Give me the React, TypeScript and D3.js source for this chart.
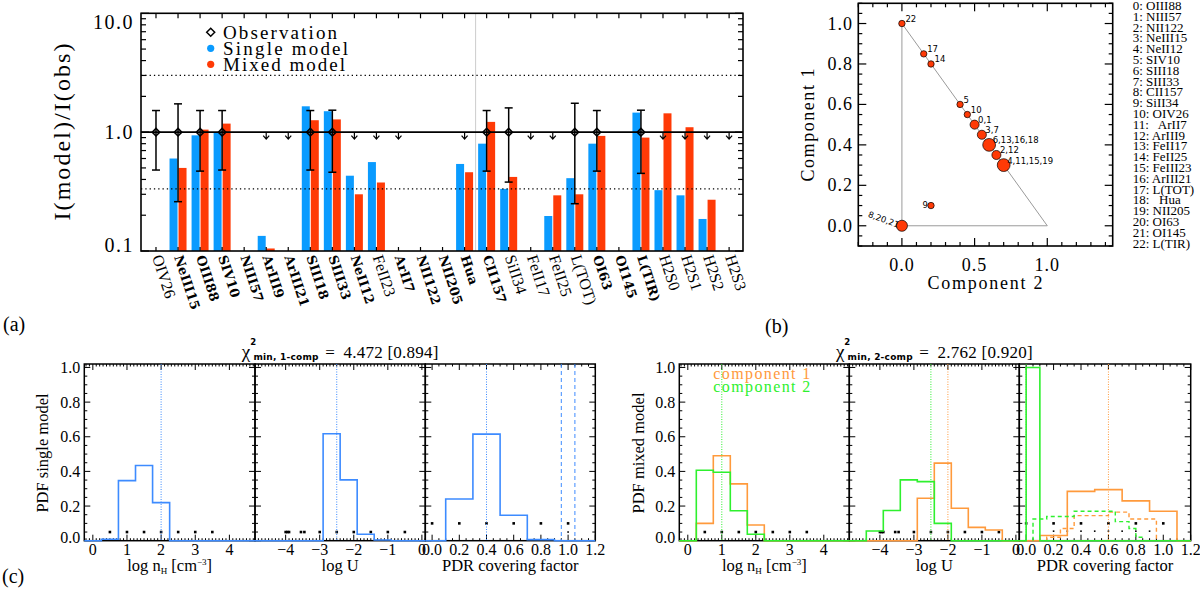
import React from "react";
import * as d3 from "d3";

const SERIF = "'Liberation Serif', 'Times New Roman', serif";
const BOLDF = "'DejaVu Serif', serif";
const SANS = "'DejaVu Sans', sans-serif";

const BLUE = "#0a9bff";
const RED = "#ff3a06";
const HBLUE = "#3d8bff";
const GREEN = "#2ef02e";
const ORANGE = "#ff9a3c";

// ---------------- (a) line ratios ----------------
const lineNames = ["OIV26","NeIII15","OIII88","SIV10","NIII57","ArIII9","ArIII21","SIII18","SIII33","NeII12","FeII23","ArII7","NII122","NII205","Hua","CII157","SiII34","FeII17","FeII25","L(TOT)","OI63","OI145","L(TIR)","H2S0","H2S1","H2S2","H2S3"];
const thinLabels = ["OIV26","FeII23","SiII34","FeII17","FeII25","L(TOT)","H2S0","H2S1","H2S2","H2S3"];
const singleModel = [null,0.60,0.94,1.00,null,0.134,null,1.65,1.50,0.43,0.56,null,null,null,0.54,0.80,0.333,null,0.197,0.41,0.80,null,1.46,0.325,0.294,0.186,null];
const mixedModel = [null,0.50,1.05,1.18,null,0.105,null,1.26,1.28,0.30,0.377,null,null,null,0.46,1.22,0.42,null,0.294,0.30,0.93,null,0.90,1.44,1.10,0.27,null];
const obsHigh = [1.52,1.73,1.52,1.52,null,null,null,1.52,1.53,null,null,null,null,null,null,1.52,1.60,null,null,1.75,1.52,null,1.53,null,null,null,null];
const obsLow = [0.48,0.26,0.47,0.48,null,null,null,0.48,0.46,null,null,null,null,null,null,0.47,0.38,null,null,0.25,0.47,null,0.45,null,null,null,null];
const upperLimits = ["ArIII9","ArIII21","NeII12","FeII23","ArII7","Hua","FeII17","FeII25","H2S0","H2S1","H2S2","H2S3"];
const yTicksA = [0.1, 1, 10];
const yTickLabelsA = ["0.1", "1.0", "10.0"];
const factorBand = [1 / 3, 3];
const legendA = ["Observation", "Single model", "Mixed model"];

// ---------------- (b) component weights ----------------
const comp2 = [0, 0.15, 0.2, 0.4, 0.45, 0.5, 0.55, 0.6, 0.65, 0.7, 0.2, 0];
const comp1 = [1.0, 0.85, 0.8, 0.6, 0.55, 0.5, 0.45, 0.4, 0.35, 0.3, 0.1, 0];
const pointLabels = ["22","17","14","5","10","0,1","3,7","6,13,16,18","2,12","4,11,15,19","9","8,20,21"];
const fitLines = ["OIII88","NIII57","NII122","NeIII15","NeII12","SIV10","SIII18","SIII33","CII157","SiII34","OIV26","  ArII7","ArIII9","FeII17","FeII25","FeIII23","ArIII21","L(TOT)","  Hua","NII205","OI63","OI145","L(TIR)"];
const xTicksB = [0, 0.5, 1.0];
const yTicksB = [0, 0.2, 0.4, 0.6, 0.8, 1.0];

// ---------------- (c) PDFs ----------------
const nHEdges = [-0.25,0.25,0.75,1.25,1.75,2.25,2.75,3.25,3.75,4.25,4.75];
const nHSingle = [0,0.008,0.347,0.434,0.22,0,0,0,0,0];
const nHComp1 = [0,0.10,0.49,0.328,0.091,0,0,0,0,0];
const nHComp2 = [0,0.407,0.395,0.173,0.037,0,0,0,0,0];
const uEdges = [-4.9,-4.4,-3.9,-3.4,-2.9,-2.4,-1.9,-1.4,-0.9,-0.4,0.1];
const uSingle = [0,0,0,0,0.617,0.351,0.037,0.004,0,0];
const uComp1 = [0,0,0,0,0.245,0.448,0.187,0.077,0.062,0];
const uComp2 = [0,0.056,0.174,0.351,0.341,0.1,0,0,0,0];
const fEdges = [-0.05,0.1,0.3,0.5,0.7,0.9,1.1,1.2];
const fSingle = [0,0.241,0.615,0.147,0.006,0,0];
const fComp1 = [0,0.03,0.285,0.295,0.23,0.17,0];
const fEdgesC2 = [-0.05,0,0.1,1.2];
const fComp2 = [0,1.0,0];
const fEdgesC1Dash = [0.15,0.25,0.35,0.6,0.75,0.95];
const fComp1Dash = [0.02,0.07,0.145,0.165,0.125];
const fEdgesC2Dash = [0.05,0.15,0.35,0.65,0.75,0.8,0.85];
const fComp2Dash = [0.125,0.14,0.17,0.11,0.07,0.02];
const gridNH = [0.5,1,1.5,2,2.5,3,3.5];
const gridU = [-4,-3.95,-3.9,-3.55,-3.45,-3,-2.5,-2,-1.5,-1,-0.5];
const gridF = [0,0.2,0.4,0.6,0.8,1.0];
const gridFSmallLeft = [1.0];
const gridFSmallRight = [0.2,0.3,0.4,0.5,0.6,0.7,0.8,0.9];
const bestSingle = [2.0, -2.5, 0.4];
const limitsSingleF = [0.95, 1.05];
const bestComp1 = [null, -2.0, 0.6];
const bestComp2 = [1.0, -2.5, 0.0];
const chi1 = "4.472 [0.894]";
const chi2 = "2.762 [0.920]";
const nhTicks = [0,1,2,3,4];
const uTicks = [-4,-3,-2,-1,0];
const fTicks = [0,0.2,0.4,0.6,0.8,1.0,1.2];
const pdfTicks = [0,0.2,0.4,0.6,0.8,1.0];

function rangeStep(d0: number, d1: number, step: number) {
  const a = Math.ceil(d0 / step - 1e-9), b = Math.floor(d1 / step + 1e-9);
  return d3.range(a, b + 1).map((k) => +(k * step).toFixed(6));
}

function stepPath(edges: number[], vals: number[], x: any, y: any) {
  const pts: [number, number][] = [[edges[0], 0]];
  vals.forEach((v, i) => { pts.push([edges[i], v]); pts.push([edges[i + 1], v]); });
  pts.push([edges[edges.length - 1], 0]);
  return d3.line<[number, number]>().x((d) => x(d[0])).y((d) => y(d[1]))(pts) || "";
}

function fmtMinus(v: number, dec: number) {
  const s = v.toFixed(dec);
  return s.replace("-", "\u2212");
}

export default function App() {
  // ===== (a) =====
  const xA = d3.scaleLinear().domain([-0.68, 26.63]).range([141, 743]);
  const yA = d3.scaleLog().domain([0.1, 10]).range([251, 13.3]);
  const [aL, aR] = xA.range();
  const [aB, aT] = yA.range();
  const y1 = yA(1);
  const aTicks = yA.ticks();
  const isMajor = (t: number) => Math.abs(Math.log10(t) - Math.round(Math.log10(t))) < 1e-6;

  const panelA = (
    <g>
      {singleModel.map((v, i) => v == null ? null : (
        <rect key={"s" + i} x={xA(i) - 8.5} y={yA(v)} width={8} height={aB - yA(v)} fill={BLUE} />
      ))}
      {mixedModel.map((v, i) => v == null ? null : (
        <rect key={"m" + i} x={xA(i) + 0.5} y={yA(v)} width={8} height={aB - yA(v)} fill={RED} />
      ))}
      <line x1={xA(14.5)} x2={xA(14.5)} y1={aT} y2={aB} stroke="#cccccc" strokeWidth={1} />
      {factorBand.map((f, i) => (
        <line key={"fb" + i} x1={aL} x2={aR} y1={yA(f)} y2={yA(f)} stroke="#000" strokeWidth={1.2} strokeDasharray="1.3 3" />
      ))}
      <line x1={aL} x2={aR} y1={y1} y2={y1} stroke="#000" strokeWidth={1.6} />
      {obsHigh.map((h, i) => {
        const lo = obsLow[i];
        if (h == null || lo == null) return null;
        const x = xA(i);
        return (
          <g key={"e" + i} stroke="#000" strokeWidth={1.5} fill="none">
            <line x1={x} x2={x} y1={yA(h)} y2={yA(lo)} />
            <line x1={x - 4} x2={x + 4} y1={yA(h)} y2={yA(h)} />
            <line x1={x - 4} x2={x + 4} y1={yA(lo)} y2={yA(lo)} />
            <path d={`M${x},${y1 - 3.8} L${x + 3.8},${y1} L${x},${y1 + 3.8} L${x - 3.8},${y1} Z`} />
          </g>
        );
      })}
      {lineNames.map((n, i) => upperLimits.includes(n) ? (
        <path key={"u" + i} d={`M${xA(i)},${y1} L${xA(i)},${y1 + 7} M${xA(i) - 3},${y1 + 3.5} L${xA(i)},${y1 + 7} L${xA(i) + 3},${y1 + 3.5}`} stroke="#000" strokeWidth={1.2} fill="none" />
      ) : null)}
      {/* frame */}
      <rect x={aL} y={aT} width={aR - aL} height={aB - aT} fill="none" stroke="#000" strokeWidth={1.6} />
      {aTicks.map((t, i) => {
        const L = isMajor(t) ? 8 : 5;
        return (
          <g key={"yt" + i} stroke="#000" strokeWidth={1.2}>
            <line x1={aL} x2={aL + L} y1={yA(t)} y2={yA(t)} />
            <line x1={aR} x2={aR - L} y1={yA(t)} y2={yA(t)} />
          </g>
        );
      })}
      {lineNames.map((n, i) => (
        <g key={"xt" + i} stroke="#000" strokeWidth={1.2}>
          <line x1={xA(i)} x2={xA(i)} y1={aT} y2={aT + 5} />
          <line x1={xA(i)} x2={xA(i)} y1={aB} y2={aB - 4} />
        </g>
      ))}
      {yTicksA.map((t, i) => {
        const yy = i === 0 ? yA(t) + 1 : i === 2 ? yA(t) + 16 : yA(t) + 7;
        return (
          <text key={"yl" + i} x={134} y={yy} textAnchor="end" fontFamily={SERIF} fontSize={20} letterSpacing={1.5}>{yTickLabelsA[i]}</text>
        );
      })}
      {lineNames.map((n, i) => {
        const thin = thinLabels.includes(n);
        const x = xA(i) - 4, y = 257;
        return (
          <text key={"xl" + i} x={x} y={y} transform={`rotate(72 ${x} ${y})`}
            fontFamily={thin ? SERIF : BOLDF} fontWeight={thin ? 400 : 700} fontSize={thin ? 16 : 13}>{n}</text>
        );
      })}
      <text x={62} y={132} transform="rotate(-90 62 132)" textAnchor="middle" dominantBaseline="central" fontFamily={SERIF} fontSize={24} textLength={177} lengthAdjust="spacing">I(model)/I(obs)</text>
      {/* legend */}
      <path d="M210.7,28.3 L214.7,32.3 L210.7,36.3 L206.7,32.3 Z" fill="none" stroke="#000" strokeWidth={1.5} />
      <circle cx={210.7} cy={48.3} r={3.6} fill={BLUE} />
      <circle cx={210.7} cy={64.3} r={3.6} fill={RED} />
      {legendA.map((t, i) => (
        <text key={"lg" + i} x={223} y={38.5 + 16 * i} fontFamily={SERIF} fontSize={19} textLength={[114, 125, 122][i]} lengthAdjust="spacing">{t}</text>
      ))}
      <text x={3} y={331} fontFamily={SERIF} fontSize={20}>(a)</text>
    </g>
  );

  // ===== (b) =====
  const xS = d3.scaleLinear().domain([-0.3, 1.45]).range([858.3, 1112.7]);
  const yS = d3.scaleLinear().domain([-0.1, 1.1]).range([246, 3.3]);
  const [sL, sR] = xS.range();
  const [sB, sT] = yS.range();
  const rS = d3.scaleSqrt().domain([0, 4]).range([0, 6.4]);
  const tri: [number, number][] = [[0, 0], [0, 1], [1, 0], [0, 0]];
  const triPath = d3.line<[number, number]>().x((d) => xS(d[0])).y((d) => yS(d[1]))(tri) || "";

  const panelB = (
    <g>
      <path d={triPath} fill="none" stroke="#9a9a9a" strokeWidth={1} />
      <rect x={sL} y={sT} width={sR - sL} height={sB - sT} fill="none" stroke="#000" strokeWidth={1.6} />
      {rangeStep(-0.3, 1.45, 0.1).map((t, i) => {
        const L = xTicksB.some((m) => Math.abs(m - t) < 1e-6) ? 8 : 4;
        return (
          <g key={"bx" + i} stroke="#000" strokeWidth={1.2}>
            <line x1={xS(t)} x2={xS(t)} y1={sB} y2={sB - L} />
            <line x1={xS(t)} x2={xS(t)} y1={sT} y2={sT + L} />
          </g>
        );
      })}
      {rangeStep(-0.1, 1.1, 0.05).map((t, i) => {
        const L = yTicksB.some((m) => Math.abs(m - t) < 1e-6) ? 8 : 4;
        return (
          <g key={"by" + i} stroke="#000" strokeWidth={1.2}>
            <line x1={sL} x2={sL + L} y1={yS(t)} y2={yS(t)} />
            <line x1={sR} x2={sR - L} y1={yS(t)} y2={yS(t)} />
          </g>
        );
      })}
      {xTicksB.map((t, i) => (
        <text key={"bxl" + i} x={xS(t)} y={271} textAnchor="middle" fontFamily={SERIF} fontSize={18} letterSpacing={1}>{t.toFixed(1)}</text>
      ))}
      {yTicksB.map((t, i) => (
        <text key={"byl" + i} x={853} y={yS(t) + 6} textAnchor="end" fontFamily={SERIF} fontSize={18} letterSpacing={1}>{t.toFixed(1)}</text>
      ))}
      {comp2.map((c, i) => {
        const n = pointLabels[i].split(",").length;
        return <circle key={"pt" + i} cx={xS(c)} cy={yS(comp1[i])} r={rS(n)} fill={RED} stroke="#000" strokeWidth={0.7} />;
      })}
      {comp2.map((c, i) => {
        const x = xS(c), y = yS(comp1[i]);
        const lab = pointLabels[i];
        if (lab === "9") return <text key={"pl" + i} x={x - 3} y={y + 2} textAnchor="end" fontFamily={SANS} fontSize={8.5}>{lab}</text>;
        if (lab === "8,20,21") return <text key={"pl" + i} x={x - 4} y={y + 2} textAnchor="end" transform={`rotate(20 ${x - 4} ${y + 2})`} fontFamily={SANS} fontSize={8.5}>{lab}</text>;
        return <text key={"pl" + i} x={x + 3.5} y={y - 1.5} fontFamily={SANS} fontSize={8.5}>{lab}</text>;
      })}
      <text x={808} y={125} transform="rotate(-90 808 125)" textAnchor="middle" dominantBaseline="central" fontFamily={SERIF} fontSize={18} textLength={113} lengthAdjust="spacing">Component 1</text>
      <text x={985} y={289} textAnchor="middle" fontFamily={SERIF} fontSize={18} textLength={115} lengthAdjust="spacing">Component 2</text>
      {fitLines.map((t, i) => (
        <text key={"fl" + i} x={1132.7} y={10 + 10.8 * i} fontFamily={SERIF} fontSize={13} style={{ whiteSpace: "pre" }}>{`${i}: ${t}`}</text>
      ))}
      <text x={765} y={333} fontFamily={SERIF} fontSize={20}>(b)</text>
    </g>
  );

  // ===== (c) =====
  const yC = d3.scaleLinear().domain([0, 1.02]).range([540.7, 364]);
  const [cB, cT] = yC.range();
  const domains: [number, number][] = [[-0.25, 4.75], [-4.9, 0.1], [-0.05, 1.2]];
  const majors = [nhTicks, uTicks, fTicks];
  const minorSteps = [0.1, 0.1, 0.05];
  const tickFmt = [(v: number) => fmtMinus(v, 0), (v: number) => fmtMinus(v, 0), (v: number) => v.toFixed(1)];
  const titles = ["log U", "PDR covering factor"];
  const geomL: [number, number][] = [[84.3, 255], [255, 425.3], [425.3, 595.3]];
  const geomR: [number, number][] = [[679.3, 849.3], [849.3, 1019.3], [1019.3, 1190.7]];
  const scalesL = geomL.map((g, k) => d3.scaleLinear().domain(domains[k]).range(g));
  const scalesR = geomR.map((g, k) => d3.scaleLinear().domain(domains[k]).range(g));

  const frame = (x: any, k: number, key: string, showY: boolean) => {
    const [l, r] = x.range();
    return (
      <g key={key}>
        <rect x={l} y={cT} width={r - l} height={cB - cT} fill="none" stroke="#000" strokeWidth={1.5} />
        {rangeStep(domains[k][0], domains[k][1], minorSteps[k]).map((t, i) => {
          const L = majors[k].some((m) => Math.abs(m - t) < 1e-6) ? 6 : 2.5;
          return (
            <g key={"t" + i} stroke="#000" strokeWidth={1}>
              <line x1={x(t)} x2={x(t)} y1={cB} y2={cB - L} />
              <line x1={x(t)} x2={x(t)} y1={cT} y2={cT + L} />
            </g>
          );
        })}
        {rangeStep(0, 1.0, 0.05).map((t, i) => {
          const L = pdfTicks.some((m) => Math.abs(m - t) < 1e-6) ? 6 : 3;
          return (
            <g key={"v" + i} stroke="#000" strokeWidth={1}>
              <line x1={l} x2={l + L} y1={yC(t)} y2={yC(t)} />
              <line x1={r} x2={r - L} y1={yC(t)} y2={yC(t)} />
            </g>
          );
        })}
        {majors[k].map((t, i) => (
          <text key={"xl" + i} x={x(t)} y={555} textAnchor="middle" fontFamily={SERIF} fontSize={16}>{tickFmt[k](t)}</text>
        ))}
        {showY && pdfTicks.map((t, i) => (
          <text key={"yl" + i} x={l - 4} y={yC(t) + 5.5 - (t === 0 ? 3 : 0)} textAnchor="end" fontFamily={SERIF} fontSize={16}>{t.toFixed(1)}</text>
        ))}
        {k === 0 ? (
          <text x={(l + r) / 2} y={571} textAnchor="middle" fontFamily={SERIF} fontSize={16.5}>
            log n<tspan fontSize={9} dy={3}>H</tspan><tspan dy={-3}> [cm</tspan><tspan fontSize={9} dy={-6}>{"\u22123"}</tspan><tspan dy={6}>]</tspan>
          </text>
        ) : (
          <text x={(l + r) / 2} y={571} textAnchor="middle" fontFamily={SERIF} fontSize={16.5}>{titles[k - 1]}</text>
        )}
      </g>
    );
  };

  const dots = (x: any, xs: number[], yv: number, s: number, key: string) => (
    <g key={key}>{xs.map((v, i) => <rect key={i} x={x(v) - s / 2} y={yC(yv) - s / 2} width={s} height={s} fill="#000" />)}</g>
  );
  const vline = (x: any, v: number, color: string, dash: string, key: string) => (
    <line key={key} x1={x(v)} x2={x(v)} y1={cT} y2={cB} stroke={color} strokeWidth={1} strokeDasharray={dash} />
  );

  const title = (cx: number, sub: string, val: string) => {
    const x = cx - 98.3;
    return (
      <g>
        <text x={x} y={358} fontFamily={SERIF} fontSize={19}>{"\u03c7"}</text>
        <text x={x + 8.3} y={344.5} fontFamily={SANS} fontWeight={700} fontSize={8.5}>2</text>
        <text x={x + 11.6} y={359.5} fontFamily={SANS} fontWeight={700} fontSize={9} textLength={65} lengthAdjust="spacing">{sub}</text>
        <text x={x + 83.3} y={357.5} fontFamily={SERIF} fontSize={17}>=</text>
        <text x={x + 101.6} y={358} fontFamily={SERIF} fontSize={17} textLength={95} lengthAdjust="spacing">{val}</text>
      </g>
    );
  };

  const [xL1, xL2, xL3] = scalesL;
  const [xR1, xR2, xR3] = scalesR;

  const panelC = (
    <g>
      {geomL.map((g, k) => frame(scalesL[k], k, "fl" + k, k === 0))}
      {geomR.map((g, k) => frame(scalesR[k], k, "fr" + k, k === 0))}
      {/* single model */}
      {dots(xL1, gridNH, 0.05, 2.6, "d1")}
      {dots(xL2, gridU, 0.05, 2.6, "d2")}
      {dots(xL3, gridF, 0.1, 2.6, "d3")}
      {dots(xL3, gridFSmallLeft, 0.05, 1.6, "d3s")}
      {bestSingle.map((v, k) => vline(scalesL[k], v, HBLUE, "1 1.5", "bs" + k))}
      {limitsSingleF.map((v, k) => vline(xL3, v, HBLUE, "4 3", "ls" + k))}
      <path d={stepPath(nHEdges, nHSingle, xL1, yC)} fill="none" stroke={HBLUE} strokeWidth={1.6} />
      <path d={stepPath(uEdges, uSingle, xL2, yC)} fill="none" stroke={HBLUE} strokeWidth={1.6} />
      <path d={stepPath(fEdges, fSingle, xL3, yC)} fill="none" stroke={HBLUE} strokeWidth={1.6} />
      {/* mixed model */}
      {dots(xR1, gridNH, 0.05, 2.6, "e1")}
      {dots(xR2, gridU, 0.05, 2.6, "e2")}
      {dots(xR3, gridF, 0.1, 2.6, "e3")}
      {dots(xR3, gridFSmallRight, 0.055, 1.6, "e3s")}
      {bestComp1.map((v, k) => v == null ? null : vline(scalesR[k], v, ORANGE, "1 1.5", "b1" + k))}
      {bestComp2.map((v, k) => vline(scalesR[k], v, GREEN, "1 1.5", "b2" + k))}
      <path d={stepPath(nHEdges, nHComp1, xR1, yC)} fill="none" stroke={ORANGE} strokeWidth={1.6} />
      <path d={stepPath(uEdges, uComp1, xR2, yC)} fill="none" stroke={ORANGE} strokeWidth={1.6} />
      <path d={stepPath(fEdges, fComp1, xR3, yC)} fill="none" stroke={ORANGE} strokeWidth={1.6} />
      <path d={stepPath(fEdgesC1Dash, fComp1Dash, xR3, yC)} fill="none" stroke={ORANGE} strokeWidth={1.4} strokeDasharray="4 3" />
      <path d={stepPath(fEdgesC2Dash, fComp2Dash, xR3, yC)} fill="none" stroke={GREEN} strokeWidth={1.4} strokeDasharray="4 3" />
      <path d={stepPath(nHEdges, nHComp2, xR1, yC)} fill="none" stroke={GREEN} strokeWidth={1.6} />
      <path d={stepPath(uEdges, uComp2, xR2, yC)} fill="none" stroke={GREEN} strokeWidth={1.6} />
      <path d={stepPath(fEdgesC2, fComp2, xR3, yC)} fill="none" stroke={GREEN} strokeWidth={1.6} />
      <text x={713.3} y={379} fontFamily={SERIF} fontSize={16} fill={ORANGE} textLength={97} lengthAdjust="spacing">component 1</text>
      <text x={713.3} y={391.5} fontFamily={SERIF} fontSize={16} fill={GREEN} textLength={97} lengthAdjust="spacing">component 2</text>
      {title((geomL[1][0] + geomL[1][1]) / 2, "min, 1-comp", chi1)}
      {title((geomR[1][0] + geomR[1][1]) / 2, "min, 2-comp", chi2)}
      <text x={42.5} y={453} transform="rotate(-90 42.5 453)" textAnchor="middle" dominantBaseline="central" fontFamily={SERIF} fontSize={16.5}>PDF single model</text>
      <text x={638} y={453} transform="rotate(-90 638 453)" textAnchor="middle" dominantBaseline="central" fontFamily={SERIF} fontSize={16.5}>PDF mixed model</text>
      <text x={2} y={583} fontFamily={SERIF} fontSize={20}>(c)</text>
    </g>
  );

  return (
    <svg width={1200} height={596} viewBox="0 0 1200 596" style={{ position: "absolute", left: 0, top: 0, background: "#fff" }}>
      <rect x={0} y={0} width={1200} height={596} fill="#fff" />
      {panelA}
      {panelB}
      {panelC}
    </svg>
  );
}
